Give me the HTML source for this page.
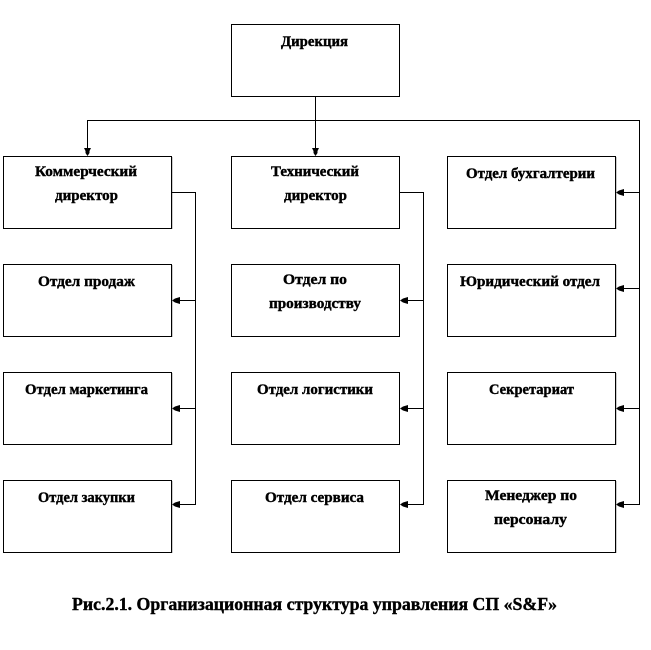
<!DOCTYPE html>
<html><head><meta charset="utf-8"><style>
html,body{margin:0;padding:0;background:#fff;width:651px;height:650px;overflow:hidden}
svg{display:block}
text{font-family:"Liberation Serif","DejaVu Serif",serif;font-weight:bold;font-size:15px;fill:#000;stroke:#000;stroke-width:.4}
rect{fill:#fff;stroke:#000;stroke-width:1}
path{fill:none;stroke:#000;stroke-width:1}
polygon{fill:#000}
</style></head><body>
<svg width="651" height="650" viewBox="0 0 651 650" xmlns="http://www.w3.org/2000/svg" shape-rendering="crispEdges">
<path d="M172.5 157V229M172.5 265V337M172.5 373V445M172.5 481V553M616.5 157V229M616.5 265V337M616.5 373V445M616.5 481V553" style="stroke:#ccc"/>
<rect x="231.5" y="24.5" width="168" height="72"/>
<rect x="3.5" y="156.5" width="168" height="72"/>
<rect x="3.5" y="264.5" width="168" height="72"/>
<rect x="3.5" y="372.5" width="168" height="72"/>
<rect x="3.5" y="480.5" width="168" height="72"/>
<rect x="231.5" y="156.5" width="168" height="72"/>
<rect x="231.5" y="264.5" width="168" height="72"/>
<rect x="231.5" y="372.5" width="168" height="72"/>
<rect x="231.5" y="480.5" width="168" height="72"/>
<rect x="447.5" y="156.5" width="168" height="72"/>
<rect x="447.5" y="264.5" width="168" height="72"/>
<rect x="447.5" y="372.5" width="168" height="72"/>
<rect x="447.5" y="480.5" width="168" height="72"/>
<path d="M315.5 97V150M87.5 150V120.5H639.5V504.5H622M639.5 192.5H622M639.5 288.5H622M639.5 408.5H622"/>
<path d="M172 192.5H195.5V504.5H178M195.5 300.5H178M195.5 408.5H178"/>
<path d="M400 192.5H423.5V504.5H406M423.5 300.5H406M423.5 408.5H406"/>
<g shape-rendering="auto">
<polygon points="84,148 91,148 89.5,151 89.5,153 87.5,156 85.5,153 85.5,151"/>
<polygon points="312,148 319,148 317.5,151 317.5,153 315.5,156 313.5,153 313.5,151"/>
<polygon points="172,300.5 175,298.5 180,297 180,304 175,302.5"/>
<polygon points="172,408.5 175,406.5 180,405 180,412 175,410.5"/>
<polygon points="172,504.5 175,502.5 180,501 180,508 175,506.5"/>
<polygon points="400,300.5 403,298.5 408,297 408,304 403,302.5"/>
<polygon points="400,408.5 403,406.5 408,405 408,412 403,410.5"/>
<polygon points="400,504.5 403,502.5 408,501 408,508 403,506.5"/>
<polygon points="616,192.5 619,190.5 624,189 624,196 619,194.5"/>
<polygon points="616,288.5 619,286.5 624,285 624,292 619,290.5"/>
<polygon points="616,408.5 619,406.5 624,405 624,412 619,410.5"/>
<polygon points="616,504.5 619,502.5 624,501 624,508 619,506.5"/>
</g>
<g shape-rendering="auto">
<text x="281" y="46" textLength="67" lengthAdjust="spacingAndGlyphs">Дирекция</text>
<text x="35" y="176" textLength="102" lengthAdjust="spacingAndGlyphs">Коммерческий</text>
<text x="55" y="200" textLength="63" lengthAdjust="spacingAndGlyphs">директор</text>
<text x="38" y="286" textLength="97" lengthAdjust="spacingAndGlyphs">Отдел продаж</text>
<text x="25" y="394" textLength="123" lengthAdjust="spacingAndGlyphs">Отдел маркетинга</text>
<text x="38" y="502" textLength="97" lengthAdjust="spacingAndGlyphs">Отдел закупки</text>
<text x="271" y="176" textLength="88" lengthAdjust="spacingAndGlyphs">Технический</text>
<text x="284" y="200" textLength="63" lengthAdjust="spacingAndGlyphs">директор</text>
<text x="283" y="284" textLength="64" lengthAdjust="spacingAndGlyphs">Отдел по</text>
<text x="269" y="308" textLength="92" lengthAdjust="spacingAndGlyphs">производству</text>
<text x="257" y="394" textLength="116" lengthAdjust="spacingAndGlyphs">Отдел логистики</text>
<text x="265" y="502" textLength="99" lengthAdjust="spacingAndGlyphs">Отдел сервиса</text>
<text x="466" y="178" textLength="129" lengthAdjust="spacingAndGlyphs">Отдел бухгалтерии</text>
<text x="460" y="286" textLength="140" lengthAdjust="spacingAndGlyphs">Юридический отдел</text>
<text x="489" y="394" textLength="85" lengthAdjust="spacingAndGlyphs">Секретариат</text>
<text x="485" y="500" textLength="92" lengthAdjust="spacingAndGlyphs">Менеджер по</text>
<text x="494" y="524" textLength="73" lengthAdjust="spacingAndGlyphs">персоналу</text>
<text x="72" y="610" textLength="485" lengthAdjust="spacingAndGlyphs" style="font-size:18px">Рис.2.1. Организационная структура управления СП «S&amp;F»</text>
</g>
</svg>
</body></html>
